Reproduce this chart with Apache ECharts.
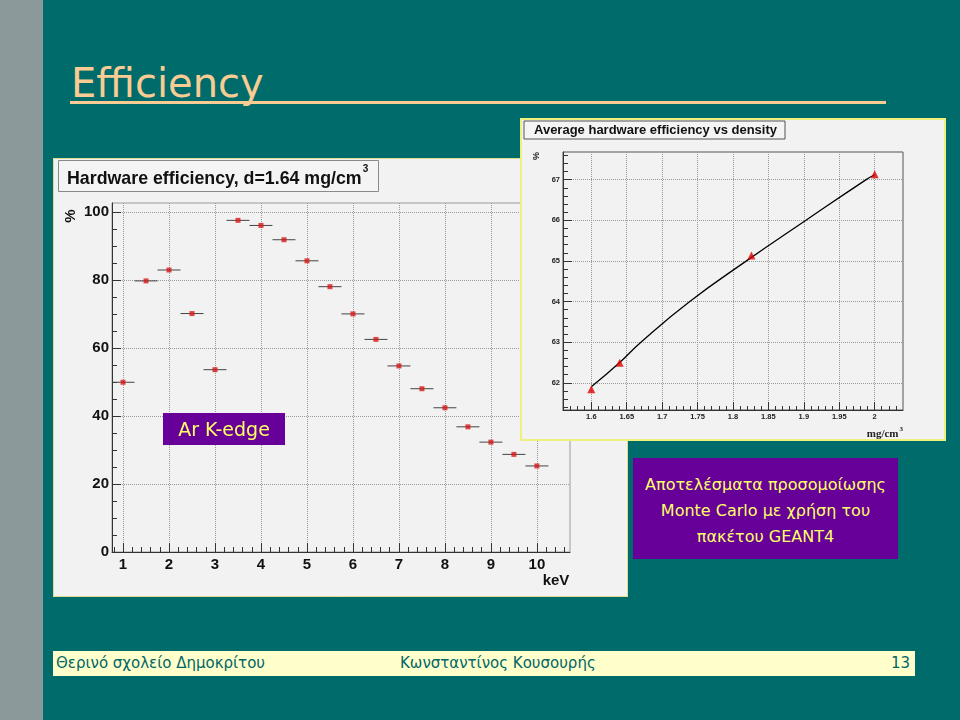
<!DOCTYPE html>
<html><head><meta charset="utf-8">
<script src="https://cdn.jsdelivr.net/npm/echarts@6/dist/echarts.min.js"></script>
<style>
body{margin:0;width:960px;height:720px;background:#006B6B;position:relative;overflow:hidden;font-family:"Comic Sans MS","DejaVu Sans",sans-serif;}
#strip{position:absolute;left:0;top:0;width:43px;height:720px;background:#8B999A;}
#title{position:absolute;left:71px;top:59px;font-size:40px;color:#F8CC92;line-height:48px;white-space:nowrap;}
#uline{position:absolute;left:70px;top:101px;width:816px;height:3px;background:#F8CC92;}
#c1{position:absolute;left:53px;top:158px;width:575px;height:439px;}
#c2{position:absolute;left:520px;top:118px;width:426px;height:323px;}
#box{position:absolute;left:633px;top:458px;width:265px;height:101px;background:#660099;color:#FFFF66;font-size:16px;line-height:26px;text-align:center;box-sizing:border-box;padding-top:14px;white-space:nowrap;}
#footer{position:absolute;left:53px;top:651px;width:862px;height:25px;background:#FFFFCC;color:#006666;font-size:15px;line-height:25px;white-space:nowrap;}
#footer span{position:absolute;top:0;}
</style></head>
<body>
<div id="strip"></div>
<div id="title">Efficiency</div>
<div id="uline"></div>
<div id="c1"></div>
<div id="c2"></div>
<div id="box">Αποτελέσματα προσομοίωσης<br>Monte Carlo με χρήση του<br>πακέτου GEANT4</div>
<div id="footer"><span style="left:3px">Θερινό σχολείο Δημοκρίτου</span><span style="left:347px">Κωνσταντίνος Κουσουρής</span><span style="right:5px">13</span></div>
<script>
// ---- Data: hardware efficiency vs photon energy (d = 1.64 mg/cm3)
const energyKeV = [1, 1.5, 2, 2.5, 3, 3.5, 4, 4.5, 5, 5.5, 6, 6.5, 7, 7.5, 8, 8.5, 9, 9.5, 10];
const efficiencyPct = [49.9, 79.7, 82.9, 70.1, 53.6, 97.5, 96.0, 91.8, 85.6, 78.0, 70.0, 62.5, 54.7, 48.0, 42.4, 36.8, 32.3, 28.7, 25.3];
const energyHalfWidth = [0.25, 0.25, 0.25, 0.25, 0.25, 0.25, 0.25, 0.25, 0.25, 0.25, 0.25, 0.25, 0.25, 0.25, 0.25, 0.25, 0.25, 0.25, 0.25];
const energyTickLabels = [1, 2, 3, 4, 5, 6, 7, 8, 9, 10];
const effTickLabels = [0, 20, 40, 60, 80, 100];

// ---- Data: average hardware efficiency vs density
const densityPts = [1.6, 1.64, 1.826, 2.0];
const avgEffPts = [61.84, 62.49, 65.13, 67.13];
const curveDensity = [1.6, 1.64, 1.67, 1.739, 1.819, 1.903, 1.988, 2.0];
const curveEff = [61.9, 62.5, 63.0, 64.0, 65.0, 66.0, 67.0, 67.12];
const densityTickLabels = [1.6, 1.65, 1.7, 1.75, 1.8, 1.85, 1.9, 1.95, 2];
const avgEffTickLabels = [62, 63, 64, 65, 66, 67];

function steps(a, b, s) { const o = []; for (let v = a; v <= b + 1e-9; v += s) o.push(Math.round(v * 1000) / 1000); return o; }

const F = '"Liberation Sans", Arial, sans-serif';

// ---------- Left chart ----------
const c1 = echarts.init(document.getElementById('c1'));
const axisCol = '#333';
c1.setOption({
  backgroundColor: '#F2F2F2',
  animation: false,
  grid: {left: 59, top: 45, width: 458, height: 349, show: true, borderColor: '#9a9a9a', borderWidth: 1, backgroundColor: '#F2F2F2'},
  xAxis: [
    {type: 'value', min: 0.76, max: 10.72, position: 'bottom',
     axisLine: {lineStyle: {color: axisCol, width: 1}},
     axisTick: {customValues: energyTickLabels, inside: true, length: 9, lineStyle: {color: axisCol}},
     axisLabel: {customValues: energyTickLabels, color: '#111', fontWeight: 'bold', fontSize: 15, fontFamily: F, margin: 5},
     splitLine: {show: true, lineStyle: {type: 'dotted', color: '#999', width: 1}}},
    {type: 'value', min: 0.76, max: 10.72, position: 'bottom',
     axisLine: {show: false}, axisLabel: {show: false}, splitLine: {show: false},
     axisTick: {customValues: steps(0.8, 10.6, 0.2), inside: true, length: 5, lineStyle: {color: axisCol}}}
  ],
  yAxis: [
    {type: 'value', min: 0, max: 102.6,
     axisLine: {show: true, lineStyle: {color: axisCol, width: 1}},
     axisTick: {show: true, customValues: effTickLabels, inside: true, length: 9, lineStyle: {color: axisCol}},
     axisLabel: {customValues: effTickLabels, color: '#111', fontWeight: 'bold', fontSize: 15, fontFamily: F, margin: 3},
     splitLine: {show: true, lineStyle: {type: 'dotted', color: '#999', width: 1}}},
    {type: 'value', min: 0, max: 102.6, position: 'left',
     axisLine: {show: false}, axisLabel: {show: false}, splitLine: {show: false},
     axisTick: {show: true, customValues: steps(0, 100, 5), inside: true, length: 5, lineStyle: {color: axisCol}}}
  ],
  series: [
    {type: 'custom', xAxisIndex: 0, yAxisIndex: 0, clip: true, z: 3,
     data: energyKeV.map((e, i) => [e, efficiencyPct[i], energyHalfWidth[i]]),
     renderItem: function (params, api) {
       const x = api.value(0), y = api.value(1), h = api.value(2);
       const p1 = api.coord([x - h, y]), p2 = api.coord([x + h, y]);
       return {type: 'line', shape: {x1: p1[0], y1: p1[1], x2: p2[0], y2: p2[1]}, style: {stroke: '#444', lineWidth: 1}};
     }},
    {type: 'scatter', xAxisIndex: 0, yAxisIndex: 0, symbol: 'rect', symbolSize: 5, z: 4,
     itemStyle: {color: '#D81818'},
     data: energyKeV.map((e, i) => [e, efficiencyPct[i]])}
  ],
  graphic: [
    {type: 'rect', x: 0.5, y: 0.5, shape: {width: 574, height: 438}, style: {fill: null, stroke: '#DCDC8C', lineWidth: 1}, z: 20, silent: true},
    {type: 'rect', left: 5, top: 2, shape: {width: 320, height: 31}, style: {fill: '#F4F4F4', stroke: '#8a8a8a', lineWidth: 1}, z: 10},
    {type: 'text', left: 14, top: 6, z: 11,
     style: {text: '{a|Hardware efficiency, d=1.64 mg/cm}{s|3}', rich: {
       a: {fontFamily: F, fontWeight: 'bold', fontSize: 17.8, fill: '#111', verticalAlign: 'bottom', lineHeight: 24},
       s: {fontFamily: F, fontWeight: 'bold', fontSize: 10, fill: '#111', verticalAlign: 'top', lineHeight: 24, padding: [0, 0, 12, 1]}}}},
    {type: 'text', x: 18, y: 58, rotation: Math.PI / 2, z: 11,
     style: {text: '%', fontFamily: F, fontWeight: 'bold', fontSize: 15, fill: '#111', align: 'center', verticalAlign: 'middle'}},
    {type: 'text', x: 503, y: 423, z: 11,
     style: {text: 'keV', fontFamily: F, fontWeight: 'bold', fontSize: 15, fill: '#111', align: 'center', verticalAlign: 'middle'}},
    {type: 'rect', x: 110, y: 255, shape: {width: 122, height: 32}, style: {fill: '#660099'}, z: 10},
    {type: 'text', x: 171, y: 273, z: 11,
     style: {text: 'Ar K-edge', fontFamily: '"Comic Sans MS","DejaVu Sans",sans-serif', fontSize: 19, fill: '#FFFF66', align: 'center', verticalAlign: 'middle'}}
  ]
});

// ---------- Right chart ----------
const c2 = echarts.init(document.getElementById('c2'));
c2.setOption({
  backgroundColor: '#F2F2F2',
  animation: false,
  grid: {left: 43, top: 34, width: 340, height: 258, show: true, borderColor: '#555', borderWidth: 1, backgroundColor: '#F2F2F2'},
  xAxis: [
    {type: 'value', min: 1.56, max: 2.04,
     axisLine: {lineStyle: {color: '#333'}},
     axisTick: {customValues: densityTickLabels, inside: true, length: 8, lineStyle: {color: '#333'}},
     axisLabel: {customValues: densityTickLabels, color: '#222', fontWeight: 'bold', fontSize: 7.5, fontFamily: F, margin: 3,
                 formatter: v => String(Math.round(v * 100) / 100)},
     splitLine: {show: true, lineStyle: {type: 'dotted', color: '#999'}}},
    {type: 'value', min: 1.56, max: 2.04, position: 'bottom',
     axisLine: {show: false}, axisLabel: {show: false}, splitLine: {show: false},
     axisTick: {customValues: steps(1.57, 2.03, 0.01), inside: true, length: 4, lineStyle: {color: '#333'}}}
  ],
  yAxis: [
    {type: 'value', min: 61.33, max: 67.68,
     axisLine: {show: true, lineStyle: {color: '#333'}},
     axisTick: {show: true, customValues: avgEffTickLabels, inside: true, length: 9, lineStyle: {color: '#333'}},
     axisLabel: {customValues: avgEffTickLabels, color: '#222', fontWeight: 'bold', fontSize: 7.5, fontFamily: F, margin: 3},
     splitLine: {show: true, lineStyle: {type: 'dotted', color: '#999'}}},
    {type: 'value', min: 61.33, max: 67.68, position: 'left',
     axisLine: {show: false}, axisLabel: {show: false}, splitLine: {show: false},
     axisTick: {show: true, customValues: steps(61.4, 67.6, 0.2), inside: true, length: 5, lineStyle: {color: '#333'}}}
  ],
  series: [
    {type: 'line', xAxisIndex: 0, yAxisIndex: 0, smooth: true, showSymbol: false, z: 3,
     lineStyle: {color: '#000', width: 1.3},
     data: curveDensity.map((d, i) => [d, curveEff[i]])},
    {type: 'scatter', xAxisIndex: 0, yAxisIndex: 0, symbol: 'triangle', symbolSize: 8, z: 4,
     itemStyle: {color: '#DD0000'},
     data: densityPts.map((d, i) => [d, avgEffPts[i]])}
  ],
  graphic: [
    {type: 'rect', x: 1, y: 1, shape: {width: 424, height: 321}, style: {fill: null, stroke: '#F0F07C', lineWidth: 2}, z: 20, silent: true},
    {type: 'rect', x: 4, y: 3, shape: {width: 261, height: 18}, style: {fill: '#F4F4F4', stroke: '#555', lineWidth: 1}, z: 10},
    {type: 'text', x: 14, y: 12, z: 11,
     style: {text: 'Average hardware efficiency vs density', fontFamily: F, fontWeight: 'bold', fontSize: 13, fill: '#111', verticalAlign: 'middle'}},
    {type: 'text', x: 17, y: 38, rotation: Math.PI / 2, z: 11,
     style: {text: '%', fontFamily: F, fontWeight: 'bold', fontSize: 9, fill: '#222', align: 'center', verticalAlign: 'middle'}},
    {type: 'text', x: 383, y: 308, z: 11,
     style: {text: '{a|mg/cm}{s|3}', align: 'right', verticalAlign: 'top', rich: {
       a: {fontFamily: '"Liberation Serif","Times New Roman",serif', fontWeight: 'bold', fontSize: 11, fill: '#222', verticalAlign: 'bottom', lineHeight: 14},
       s: {fontFamily: '"Liberation Serif","Times New Roman",serif', fontWeight: 'bold', fontSize: 7, fill: '#222', verticalAlign: 'top', lineHeight: 14, padding: [0, 0, 7, 1]}}}}
  ]
});
</script>
</body></html>
